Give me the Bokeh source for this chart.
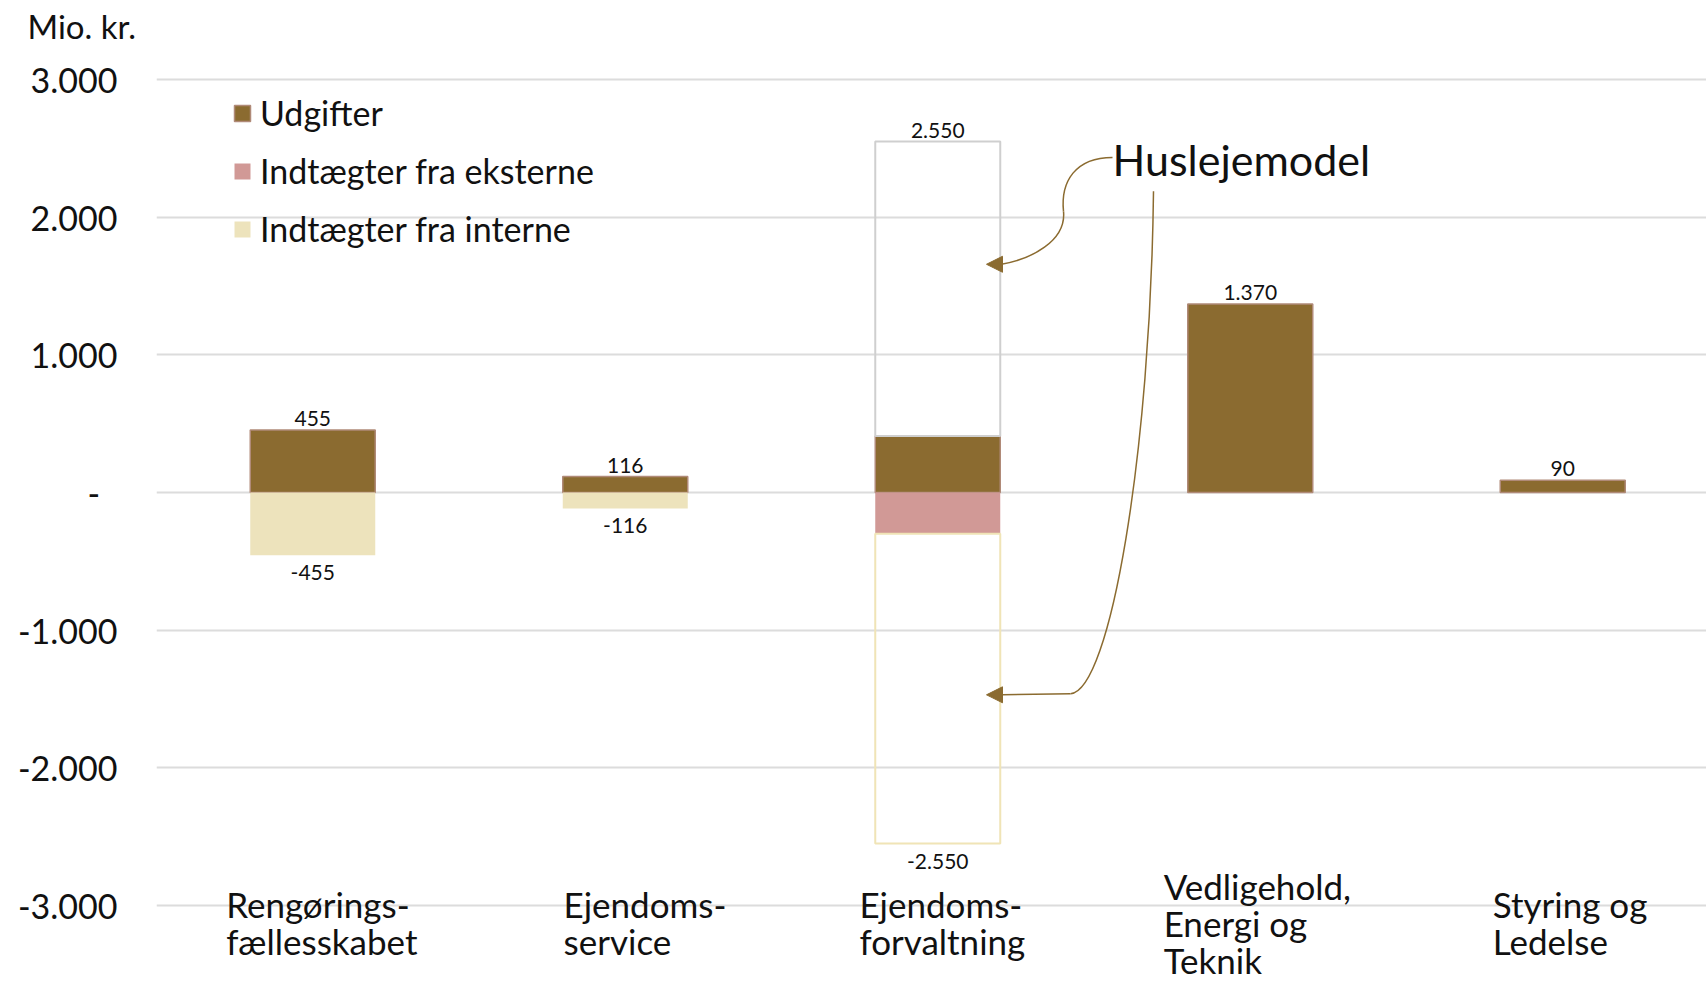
import numpy as np
from bokeh.plotting import figure
from bokeh.models import Range1d, FixedTicker, Legend, LegendItem, Arrow, NormalHead
from bokeh.core.properties import value
from bokeh.embed import file_html
from bokeh.resources import INLINE

# ---------------- data ----------------
categories = ["Rengørings-\nfællesskabet", "Ejendoms-\nservice", "Ejendoms-\nforvaltning",
              "Vedligehold,\nEnergi og\nTeknik", "Styring og\nLedelse"]
udgifter = [455, 116, 410, 1370, 90]            # Udgifter
husleje_udgifter = [0, 0, 2140, 0, 0]           # Huslejemodel (outlined, above)
indt_eksterne = [0, 0, -300, 0, 0]              # Indtægter fra eksterne
indt_interne = [-455, -116, 0, 0, 0]            # Indtægter fra interne
husleje_interne = [0, 0, -2250, 0, 0]           # Huslejemodel (outlined, below)
y_ticks = [-3000, -2000, -1000, 0, 1000, 2000, 3000]
y_tick_labels = ["-3.000", "-2.000", "-1.000", "-  ", "1.000", "2.000", "3.000"]
series_names = ["Udgifter", "Indtægter fra eksterne", "Indtægter fra interne"]
annotation_text = "Huslejemodel"
unit_text = "Mio. kr."

# ---------------- styles ----------------
BROWN = "#8B6B30"
BROWN_EDGE = "#B08A78"
PINK = "#D19996"
CREAM = "#EDE3BC"
GRID = "#DCDCDC"
TXT = "#111111"
FONT = "Lato"
BAR_W = 0.4
W, H = 1706, 981
LEFT, TOP = 156, 48
PX_X = 312.5      # px per category
PX_Y = 0.1378     # px per unit
Y0 = 491.5        # pixel row of zero

n = len(categories)
x = np.arange(n)
u = np.array(udgifter, dtype=float)
hu = np.array(husleje_udgifter, dtype=float)
e = np.array(indt_eksterne, dtype=float)
i_ = np.array(indt_interne, dtype=float)
hi = np.array(husleje_interne, dtype=float)

p = figure(width=W, height=H,
           x_range=Range1d(-0.5, -0.5 + (W - LEFT) / PX_X),
           y_range=Range1d(-(H - Y0) / PX_Y, (Y0 - TOP) / PX_Y),
           output_backend="svg", toolbar_location=None, x_axis_location=None,
           min_border_left=LEFT, min_border_right=0, min_border_top=TOP, min_border_bottom=0)
p.outline_line_color = None
p.background_fill_color = "white"
p.xgrid.visible = False
p.ygrid.ticker = FixedTicker(ticks=y_ticks)
p.ygrid.grid_line_color = GRID
p.ygrid.grid_line_width = 2
p.yaxis.ticker = FixedTicker(ticks=y_ticks)
p.yaxis.major_label_overrides = {t: l for t, l in zip(y_ticks, y_tick_labels)}
p.yaxis.axis_line_color = None
p.yaxis.major_tick_line_color = None
p.yaxis.minor_tick_line_color = None
p.yaxis.major_tick_out = 0
p.yaxis.major_tick_in = 0
p.yaxis.major_label_standoff = 39
p.yaxis.major_label_text_font = FONT
p.yaxis.major_label_text_font_size = "34px"
p.yaxis.major_label_text_color = TXT

# unit text as title, shifted left over the axis area
p.title.text = unit_text
p.title.align = "left"
p.title.offset = -(LEFT - 27)
p.title.text_font = FONT
p.title.text_font_size = "33px"
p.title.text_font_style = "normal"
p.title.text_color = TXT
p.title.standoff = 7

# ---------------- bars ----------------
m = u != 0
r_u = p.vbar(x=x[m], bottom=0, top=u[m], width=BAR_W, fill_color=BROWN,
             line_color=BROWN_EDGE, line_width=1.5)
m = hu != 0
p.vbar(x=x[m], bottom=u[m], top=(u + hu)[m], width=BAR_W, fill_alpha=0,
       line_color="#CFCFCF", line_width=2)
m = e != 0
r_e = p.vbar(x=x[m], top=0, bottom=e[m], width=BAR_W, fill_color=PINK, line_color=None)
m = i_ != 0
r_i = p.vbar(x=x[m], top=e[m], bottom=(e + i_)[m], width=BAR_W, fill_color=CREAM, line_color=None)
m = hi != 0
p.vbar(x=x[m], top=(e + i_)[m], bottom=(e + i_ + hi)[m], width=BAR_W, fill_alpha=0,
       line_color="#F0E4B6", line_width=2)


def fmt(v):
    s = f"{abs(int(round(v))):,}".replace(",", ".")
    return ("-" if v < 0 else "") + s


pos_tot = u + hu
neg_tot = e + i_ + hi
m = pos_tot > 0
p.text(x=x[m], y=pos_tot[m], text=[fmt(v) for v in pos_tot[m]], text_font=value(FONT),
       text_font_size=value("21px"), text_align="center", text_baseline="bottom",
       y_offset=-4, text_color=TXT)
m = neg_tot < 0
p.text(x=x[m], y=neg_tot[m], text=[fmt(v) for v in neg_tot[m]], text_font=value(FONT),
       text_font_size=value("21px"), text_align="center", text_baseline="top",
       y_offset=10, text_color=TXT)

# category labels: left-aligned blocks, roughly centred under each bar
longest = np.array([max(len(s) for s in c.split("\n")) for c in categories])
p.text(x=x, y=[(Y0 - 922) / PX_Y] * n, text=categories, text_font=value(FONT),
       text_font_size=value("35px"), text_align="left", text_baseline="middle",
       x_offset=list(13 - longest * 8.3), text_line_height=0.88, text_color=TXT)

# ---------------- legend ----------------
legend = Legend(items=[LegendItem(label=series_names[0], renderers=[r_u]),
                       LegendItem(label=series_names[1], renderers=[r_e]),
                       LegendItem(label=series_names[2], renderers=[r_i])],
                location=(76, H - 95 - 154), padding=0, margin=0, spacing=17,
                glyph_width=20, glyph_height=20, label_height=40, label_standoff=8,
                border_line_color=None, background_fill_alpha=0,
                label_text_font=FONT, label_text_font_size="34px", label_text_color=TXT)
p.add_layout(legend, "center")

# ---------------- annotation "Huslejemodel" ----------------
def dx(px):   # page pixel -> data x
    return (px - LEFT) / PX_X - 0.5


def dy(py):   # page pixel -> data y
    return (Y0 - py) / PX_Y


p.text(x=[dx(1112)], y=[dy(158)], text=[annotation_text], text_font=value(FONT),
       text_font_size=value("43px"), text_align="left", text_baseline="middle", text_color=TXT)

# upper curved arrow
p.bezier(x0=[dx(1112)], y0=[dy(156)], x1=[dx(1063)], y1=[dy(210)],
         cx0=[dx(1075)], cy0=[dy(156)], cx1=[dx(1060)], cy1=[dy(180)],
         line_color=BROWN, line_width=1.5)
p.bezier(x0=[dx(1063)], y0=[dy(210)], x1=[dx(1001)], y1=[dy(263)],
         cx0=[dx(1066)], cy0=[dy(240)], cx1=[dx(1030)], cy1=[dy(258)],
         line_color=BROWN, line_width=1.5)
p.add_layout(Arrow(end=NormalHead(size=16, fill_color=BROWN, line_color=BROWN),
                   x_start=dx(1002), y_start=dy(263), x_end=dx(986), y_end=dy(263),
                   line_color=BROWN, line_width=1.5))

# lower curved arrow
p.bezier(x0=[dx(1153)], y0=[dy(190)], x1=[dx(1070)], y1=[dy(693)],
         cx0=[dx(1150)], cy0=[dy(450)], cx1=[dx(1110)], cy1=[dy(690)],
         line_color=BROWN, line_width=1.5)
p.line(x=[dx(1070), dx(1002)], y=[dy(693), dy(694)], line_color=BROWN, line_width=1.5)
p.add_layout(Arrow(end=NormalHead(size=16, fill_color=BROWN, line_color=BROWN),
                   x_start=dx(1002), y_start=dy(694), x_end=dx(986), y_end=dy(694),
                   line_color=BROWN, line_width=1.5))

open("out.html", "w").write(file_html(p, INLINE))
